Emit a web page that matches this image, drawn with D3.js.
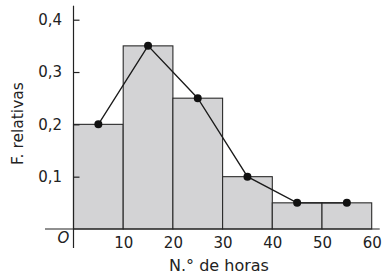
<!DOCTYPE html>
<html>
<head>
<meta charset="utf-8">
<script src="https://cdn.jsdelivr.net/npm/d3@7"></script>
<style>
  body { margin: 0; background: #fff; }
  svg text { font-family: "DejaVu Sans", sans-serif; fill: #222; }
</style>
</head>
<body>
<div id="chart"></div>
<script>
// class intervals (hours) and relative frequencies
const binStarts = [0, 10, 20, 30, 40, 50];
const binWidth = 10;
const relFreq = [0.2, 0.35, 0.25, 0.1, 0.05, 0.05];
const xTicks = [10, 20, 30, 40, 50, 60];
const yTicks = [0.1, 0.2, 0.3, 0.4];

const config = {
  containerWidth: 382,
  containerHeight: 277,
  margin: {top: 19.7, right: 10.3, bottom: 48, left: 73.5}
};

const width = config.containerWidth - config.margin.left - config.margin.right;
const height = config.containerHeight - config.margin.top - config.margin.bottom;

const xScale = d3.scaleLinear().domain([0, 60]).range([0, width]);
const yScale = d3.scaleLinear().domain([0, 0.4]).range([height, 0]);

const svg = d3.select('#chart').append('svg')
    .attr('width', config.containerWidth)
    .attr('height', config.containerHeight);

const chart = svg.append('g')
    .attr('transform', `translate(${config.margin.left},${config.margin.top})`);

const bins = binStarts.map((s, i) => ({x0: s, x1: s + binWidth, f: relFreq[i]}));

// histogram bars
chart.selectAll('.bar')
    .data(bins)
    .join('rect')
    .attr('class', 'bar')
    .attr('x', d => xScale(d.x0))
    .attr('y', d => yScale(d.f))
    .attr('width', d => xScale(d.x1) - xScale(d.x0))
    .attr('height', d => yScale(0) - yScale(d.f))
    .attr('fill', '#d3d3d5')
    .attr('stroke', '#2a2a2a')
    .attr('stroke-width', 1.1);

// axes lines
chart.append('line')
    .attr('x1', -28.5).attr('x2', width + 8)
    .attr('y1', yScale(0)).attr('y2', yScale(0))
    .attr('stroke', '#222').attr('stroke-width', 1.2);

chart.append('line')
    .attr('x1', 0).attr('x2', 0)
    .attr('y1', -14).attr('y2', height + 19)
    .attr('stroke', '#222').attr('stroke-width', 1.2);

// y axis: ticks pointing into the plot
const yAxis = d3.axisLeft(yScale)
    .tickValues(yTicks)
    .tickSize(-6)
    .tickPadding(11.5)
    .tickFormat(d => d3.format('.1f')(d).replace('.', ','));

chart.append('g')
    .attr('class', 'axis y-axis')
    .call(yAxis)
    .call(g => g.select('.domain').remove())
    .call(g => g.selectAll('.tick line').attr('stroke', '#222').attr('stroke-width', 1.2))
    .call(g => g.selectAll('.tick text')
        .attr('font-size', 15).attr('font-family', '"DejaVu Sans", sans-serif').attr('fill', '#222'));

// x axis: labels only
const xAxis = d3.axisBottom(xScale)
    .tickValues(xTicks)
    .tickSize(0)
    .tickPadding(8);

chart.append('g')
    .attr('class', 'axis x-axis')
    .attr('transform', `translate(0,${height})`)
    .call(xAxis)
    .call(g => g.select('.domain').remove())
    .call(g => g.selectAll('.tick text')
        .attr('font-size', 15).attr('font-family', '"DejaVu Sans", sans-serif').attr('fill', '#222'));

// origin label
chart.append('text')
    .attr('x', -10)
    .attr('y', height + 14)
    .attr('text-anchor', 'middle')
    .attr('font-size', 15)
    .attr('font-style', 'italic')
    .text('O');

// frequency polygon
const line = d3.line()
    .x(d => xScale((d.x0 + d.x1) / 2))
    .y(d => yScale(d.f));

chart.append('path')
    .datum(bins)
    .attr('d', line)
    .attr('fill', 'none')
    .attr('stroke', '#1a1a1a')
    .attr('stroke-width', 1.3);

chart.selectAll('.point')
    .data(bins)
    .join('circle')
    .attr('class', 'point')
    .attr('cx', d => xScale((d.x0 + d.x1) / 2))
    .attr('cy', d => yScale(d.f))
    .attr('r', 4)
    .attr('fill', '#111');

// axis titles
svg.append('text')
    .attr('x', 219)
    .attr('y', 271)
    .attr('text-anchor', 'middle')
    .attr('font-size', 16)
    .text('N.° de horas');

svg.append('text')
    .attr('transform', 'translate(23,123.5) rotate(-90)')
    .attr('text-anchor', 'middle')
    .attr('font-size', 15.5)
    .text('F. relativas');
</script>
</body>
</html>
